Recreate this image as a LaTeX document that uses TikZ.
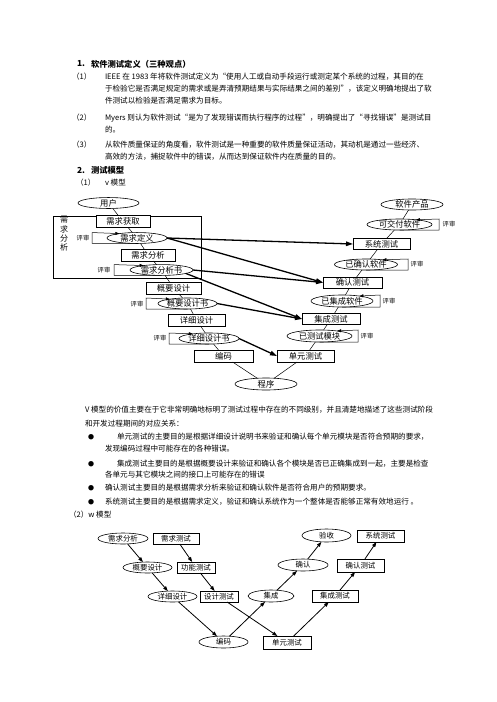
\documentclass[tikz,border=0pt]{standalone}
\usepackage{fontspec}
\setmainfont{Noto Sans CJK SC}
\usetikzlibrary{shapes.geometric,arrows.meta,calc}
\begin{document}
\begin{tikzpicture}[x=1pt,y=-1pt,
  every node/.style={inner sep=0pt,outer sep=0pt},
  body/.style={anchor=west,font=\fontsize{7.6}{9}\selectfont},
  head/.style={anchor=west,font=\fontsize{8.3}{10}\selectfont\bfseries},
  vbox/.style={draw,fill=white,line width=0.8pt,font=\fontsize{8.3}{10}\selectfont},
  vell/.style={draw,fill=white,ellipse,line width=0.6pt,font=\fontsize{8.3}{10}\selectfont},
  wbox/.style={draw,fill=white,line width=0.8pt,font=\fontsize{7.4}{9}\selectfont},
  well/.style={draw,fill=white,ellipse,line width=0.6pt,font=\fontsize{7.4}{9}\selectfont},
  rev/.style={font=\fontsize{6.3}{7}\selectfont},
  conn/.style={line width=0.5pt},
  loopar/.style={line width=0.5pt,-{Triangle[length=4pt,width=3pt]}},
  bigar/.style={line width=1.3pt,-{Triangle[length=7pt,width=4.5pt]}},
  war/.style={line width=0.8pt,-{Triangle[length=5pt,width=3.5pt]}}
]
\fill[white] (0,0) rectangle (496,702);
\useasboundingbox (0,0) rectangle (496,702);

% ---------- text section 1 ----------
\node[head] (h1n) at (77,64) {1.};
\node[head] (h1) at (91,64) {软件测试定义（三种观点）};
\node[body] (m1) at (72,77) {（1）};
\node[body] (p1a) at (105,77) {IEEE 在 1983 年将软件测试定义为“使用人工或自动手段运行或测定某个系统的过程，其目的在};
\node[body] (p1b) at (105,89) {于检验它是否满足规定的需求或是弄清预期结果与实际结果之间的差别”，该定义明确地提出了软};
\node[body] (p1c) at (105,101) {件测试以检验是否满足需求为目标。};
\node[body] (m2) at (72,118) {（2）};
\node[body] (p2a) at (105,118) {Myers 则认为软件测试“是为了发现错误而执行程序的过程”，明确提出了“寻找错误”是测试目};
\node[body] (p2b) at (105,130) {的。};
\node[body] (m3) at (72,145) {（3）};
\node[body] (p3a) at (105,145) {从软件质量保证的角度看，软件测试是一种重要的软件质量保证活动，其动机是通过一些经济、};
\node[body] (p3b) at (105,157) {高效的方法，捕捉软件中的错误，从而达到保证软件内在质量的目的。};
\node[head] (h2n) at (77,170) {2.};
\node[head] (h2) at (91,170) {测试模型};
\node[body] (m4) at (76,183) {（1）};
\node[body] (vm) at (105,183) {v 模型};

% ---------- V model ----------
\draw[line width=0.8pt] (53,216) rectangle (201,278);
\node[align=center,font=\fontsize{8}{9.3}\selectfont] (vt) at (64,234) {需\\求\\分\\析};

\node[vell,minimum width=61pt,minimum height=10pt] (yh) at (108.5,203) {用户};
\node[vbox,minimum width=54pt,minimum height=11.5pt] (hq) at (123,221.5) {需求获取};
\node[vell,minimum width=60pt,minimum height=10pt] (dy) at (137,238) {需求定义};
\node[vbox,minimum width=54pt,minimum height=12pt] (fx) at (148,255) {需求分析};
\node[vell,minimum width=63pt,minimum height=10pt] (fxs) at (161.5,270) {需求分析书};
\node[vbox,minimum width=55pt,minimum height=12pt] (gy) at (173.5,288) {概要设计};
\node[vell,minimum width=59pt,minimum height=11pt] (gys) at (187.5,303.5) {概要设计书};
\node[vbox,minimum width=57pt,minimum height=12pt] (xx) at (196.5,320) {详细设计};
\node[vell,minimum width=60pt,minimum height=11pt] (xxs) at (209,338.5) {详细设计书};
\node[vbox,minimum width=59pt,minimum height=12pt] (bm) at (223.5,356) {编码};
\node[vell,minimum width=62pt,minimum height=12pt] (cx) at (266,384) {程序};
\node[vbox,minimum width=57pt,minimum height=12pt] (dycs) at (305.5,356) {单元测试};
\node[vell,minimum width=65pt,minimum height=12pt] (csmk) at (319.5,336) {已测试模块};
\node[vbox,minimum width=58pt,minimum height=11pt] (jccs) at (331,319) {集成测试};
\node[vell,minimum width=62pt,minimum height=12pt] (jcrj) at (342,301) {已集成软件};
\node[vbox,minimum width=59pt,minimum height=11pt] (qrcs) at (352.5,282.5) {确认测试};
\node[vell,minimum width=63pt,minimum height=11pt] (qrrj) at (366,264.5) {已确认软件};
\node[vbox,minimum width=57pt,minimum height=11pt] (xtcs) at (381.5,244) {系统测试};
\node[vell,minimum width=65pt,minimum height=11pt] (kjf) at (399.5,224.5) {可交付软件};
\node[vell,minimum width=62pt,minimum height=11pt] (cp) at (412,204.5) {软件产品};

% chain connectors
\begin{scope}[on background layer/.try]
\end{scope}
\draw[conn] (yh) -- (hq);
\draw[conn] (hq) -- (dy);
\draw[conn] (dy) -- (fx);
\draw[conn] (fx) -- (fxs);
\draw[conn] (fxs) -- (gy);
\draw[conn] (gy) -- (gys);
\draw[conn] (gys) -- (xx);
\draw[conn] (xx) -- (xxs);
\draw[conn] (xxs) -- (bm);
\draw[conn] (bm) -- (cx);
\draw[conn] (cx) -- (dycs);
\draw[conn] (dycs) -- (csmk);
\draw[conn] (csmk) -- (jccs);
\draw[conn] (jccs) -- (jcrj);
\draw[conn] (jcrj) -- (qrcs);
\draw[conn] (qrcs) -- (qrrj);
\draw[conn] (qrrj) -- (xtcs);
\draw[conn] (xtcs) -- (kjf);
\draw[conn] (kjf) -- (cp);

% review loops
\coordinate (dyL) at (92,0);
\coordinate (fxsL) at (114,0);
\coordinate (gysL) at (146,0);
\coordinate (xxsL) at (169,0);
\coordinate (csmkR) at (358,0);
\coordinate (jcrjR) at (380,0);
\coordinate (qrrjR) at (408,0);
\coordinate (kjfR) at (439,0);
\draw[loopar] (dy.south) -| (dyL |- dy.north) -- (dy.166);
\draw[loopar] (fxs.south) -| (fxsL |- fxs.north) -- (fxs.166);
\draw[loopar] (gys.south) -| (gysL |- gys.north) -- (gys.166);
\draw[loopar] (xxs.south) -| (xxsL |- xxs.north) -- (xxs.164);
\draw[loopar] (csmk.south) -| (csmkR |- csmk.north) -- (csmk.16);
\draw[loopar] (jcrj.south) -| (jcrjR |- jcrj.north) -- (jcrj.16);
\draw[loopar] (qrrj.south) -| (qrrjR |- qrrj.north) -- (qrrj.16);
\draw[loopar] (kjf.south) -| (kjfR |- kjf.north) -- (kjf.16);
\node[rev] (r1) at (83,238) {评审};
\node[rev] (r2) at (104,270) {评审};
\node[rev] (r3) at (137,304) {评审};
\node[rev] (r4) at (160,338) {评审};
\node[rev] (r5) at (367,336) {评审};
\node[rev] (r6) at (389,301) {评审};
\node[rev] (r7) at (417,264) {评审};
\node[rev] (r8) at (449,224) {评审};

% big arrows
\draw[bigar] (dy.east) -- (xtcs.west);
\draw[bigar] (dy.east) -- (qrcs.west);
\draw[bigar] (fxs.east) -- (qrcs.west);
\draw[bigar] (fxs.-8) -- (jccs.west);
\draw[bigar] (gys.east) -- (jccs.west);
\draw[bigar] (xxs.east) -- (dycs.west);

% ---------- text section 2 ----------
\node[body] (q1) at (85,410) {V 模型的价值主要在于它非常明确地标明了测试过程中存在的不同级别，并且清楚地描述了这些测试阶段};
\node[body] (q2) at (85,424) {和开发过程期间的对应关系：};
\node[font=\fontsize{6}{7}\selectfont] (b1) at (91,437) {●};
\node[body] (q3) at (117,437) {单元测试的主要目的是根据详细设计说明书来验证和确认每个单元模块是否符合预期的要求，};
\node[body] (q4) at (105,449) {发现编码过程中可能存在的各种错误。};
\node[font=\fontsize{6}{7}\selectfont] (b2) at (91,464) {●};
\node[body] (q5) at (117,464) {集成测试主要目的是根据概要设计来验证和确认各个模块是否已正确集成到一起，主要是检查};
\node[body] (q6) at (105,475) {各单元与其它模块之间的接口上可能存在的错误};
\node[font=\fontsize{6}{7}\selectfont] (b3) at (91,488) {●};
\node[body] (q7) at (105,488) {确认测试主要目的是根据需求分析来验证和确认软件是否符合用户的预期要求。};
\node[font=\fontsize{6}{7}\selectfont] (b4) at (91,502) {●};
\node[body] (q8) at (105,502) {系统测试主要目的是根据需求定义，验证和确认系统作为一个整体是否能够正常有效地运行 。};
\node[body] (wm) at (69,515) {（2）w 模型};

% ---------- W model ----------
\node[well,minimum width=50pt,minimum height=11pt] (wqfx) at (123,538.5) {需求分析};
\node[wbox,minimum width=46pt,minimum height=11pt] (wqcs) at (176,538.5) {需求测试};
\node[well,minimum width=49pt,minimum height=11pt] (wgy) at (147.5,567.5) {概要设计};
\node[wbox,minimum width=38pt,minimum height=11pt] (wgn) at (196,567.5) {功能测试};
\node[well,minimum width=49pt,minimum height=11pt] (wxx) at (172.5,596.5) {详细设计};
\node[wbox,minimum width=38pt,minimum height=11pt] (wsj) at (219,596.5) {设计测试};
\node[well,minimum width=49pt,minimum height=12pt] (wbm) at (223.5,642) {编码};
\node[wbox,minimum width=48pt,minimum height=13pt] (wdy) at (287,642.5) {单元测试};
\node[well,minimum width=46pt,minimum height=12pt] (wjc) at (271,596) {集成};
\node[wbox,minimum width=46pt,minimum height=12pt] (wjcc) at (335,596) {集成测试};
\node[well,minimum width=50pt,minimum height=12pt] (wqr) at (303,565) {确认};
\node[wbox,minimum width=47pt,minimum height=13pt] (wqrc) at (360.5,565.5) {确认测试};
\node[well,minimum width=49pt,minimum height=13pt] (wys) at (326.5,535.5) {验收};
\node[wbox,minimum width=47pt,minimum height=12pt] (wxt) at (380.5,536) {系统测试};

\draw[war] (wqfx) -- (wgy);
\draw[war] (wgy) -- (wxx);
\draw[war] (wxx) -- (wbm);
\draw[war] (wqcs) -- (wgn);
\draw[war] (wgn) -- (wsj);
\draw[war] (wsj) -- (wdy);
\draw[war] (wbm) -- (wjc);
\draw[war] (wjc) -- (wqr);
\draw[war] (wqr) -- (wys);
\draw[war] (wdy) -- (wjcc);
\draw[war] (wjcc) -- (wqrc);
\draw[war] (wqrc) -- (wxt);
\end{tikzpicture}
\end{document}
